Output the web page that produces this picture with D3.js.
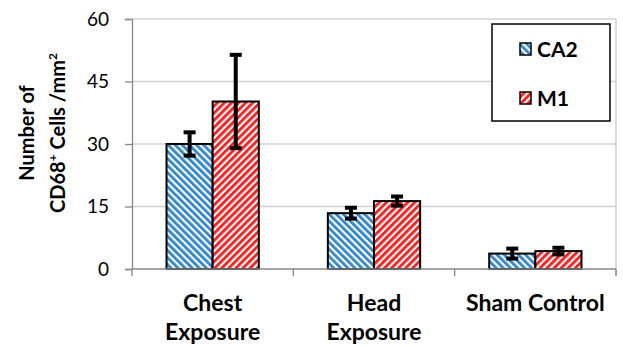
<!DOCTYPE html>
<html><head><meta charset="utf-8">
<script src="https://cdn.jsdelivr.net/npm/d3@7"></script>
<style>body{margin:0;background:#fff;} svg{display:block;}</style>
</head><body>
<script>
const categories = [["Chest","Exposure"],["Head","Exposure"],["Sham Control"]];
const seriesNames = ["CA2","M1"];
const ca2Values = [30.0, 13.4, 3.7];
const ca2Errors = [2.8, 1.3, 1.2];
const m1Values = [40.2, 16.3, 4.3];
const m1Errors = [11.2, 1.1, 0.8];
const yTicks = [0, 15, 30, 45, 60];

const FONT = "Lato, 'Open Sans', sans-serif";
const W = 623, H = 347;
const m = {l:132, r:7, t:19, b:78};
const svg = d3.select("body").append("svg").attr("width", W).attr("height", H);
const defs = svg.append("defs");
function pat(id, color, dir){
  const p = defs.append("pattern").attr("id", id).attr("patternUnits","userSpaceOnUse")
    .attr("width", 5).attr("height", 5)
    .attr("patternTransform", "rotate(" + dir + ")");
  p.append("rect").attr("width",5).attr("height",5).attr("fill","#fff");
  p.append("rect").attr("width",2.8).attr("height",5).attr("fill",color);
}
pat("pCA2", "#2f86d0", -45);
pat("pM1", "#ff1a1a", 45);
const fills = ["url(#pCA2)", "url(#pM1)"];

const x = d3.scaleBand().domain(d3.range(categories.length)).range([m.l, W - m.r]).paddingInner(0).paddingOuter(0);
const y = d3.scaleLinear().domain([0, 60]).range([H - m.b, m.t]);
const bw = x.bandwidth() * 0.286;

// gridlines
svg.append("g").selectAll("line").data(yTicks.filter(d=>d>0)).join("line")
  .attr("x1", m.l).attr("x2", W - m.r).attr("y1", d=>y(d)).attr("y2", d=>y(d))
  .attr("stroke", "#d0d0d0").attr("stroke-width", 1.3);
// right border
svg.append("line").attr("x1", W-m.r).attr("x2", W-m.r).attr("y1", y(60)).attr("y2", y(0)+7)
  .attr("stroke","#c8c8c8").attr("stroke-width",1.3);

// y axis
const yAxis = svg.append("g").attr("transform", `translate(${m.l},0)`)
  .call(d3.axisLeft(y).tickValues(yTicks).tickSize(7).tickPadding(16));
yAxis.select(".domain").attr("stroke", "#888").attr("stroke-width", 1.3);
yAxis.selectAll(".tick line").attr("stroke", "#888").attr("stroke-width", 1.3);
yAxis.selectAll(".tick text").attr("font-family", FONT)
  .attr("font-size", 19).attr("fill", "#000");

// bars
const groups = [ca2Values, m1Values];
const errs = [ca2Errors, m1Errors];
groups.forEach((vals, si) => {
  const g = svg.append("g");
  g.selectAll("rect").data(vals).join("rect")
    .attr("x", (d,i) => x(i) + x.bandwidth()/2 + (si === 0 ? -bw : 0))
    .attr("y", d => y(d)).attr("width", bw).attr("height", d => y(0) - y(d))
    .attr("fill", fills[si]).attr("stroke", "#000").attr("stroke-width", 2);
});

// x axis
svg.append("line").attr("x1", m.l).attr("x2", W-m.r).attr("y1", y(0)).attr("y2", y(0))
  .attr("stroke","#888").attr("stroke-width",1.5);
svg.append("g").selectAll("line").data(d3.range(categories.length+1)).join("line")
  .attr("x1", i => i < categories.length ? x(i) : W-m.r).attr("x2", i => i < categories.length ? x(i) : W-m.r)
  .attr("y1", y(0)).attr("y2", y(0)+7).attr("stroke","#888").attr("stroke-width",1.3);

// error bars
groups.forEach((vals, si) => {
  const g = svg.append("g");
  vals.forEach((v, i) => {
    const cx = x(i) + x.bandwidth()/2 + (si === 0 ? -bw/2 : bw/2);
    const e = errs[si][i];
    g.append("line").attr("x1", cx).attr("x2", cx).attr("y1", y(v+e)).attr("y2", y(v-e))
      .attr("stroke","#000").attr("stroke-width",4);
    [v+e, v-e].forEach(t => g.append("line").attr("x1", cx-6).attr("x2", cx+6)
      .attr("y1", y(t)).attr("y2", y(t)).attr("stroke","#000").attr("stroke-width",4));
  });
});

// category labels
categories.forEach((lines, i) => {
  const t = svg.append("text").attr("x", x(i) + x.bandwidth()/2).attr("y", 311)
    .attr("text-anchor","middle").attr("font-family",FONT)
    .attr("font-weight","bold").attr("font-size",23).attr("fill","#000");
  lines.forEach((l, k) => t.append("tspan").attr("x", x(i)+x.bandwidth()/2).attr("dy", k ? 29 : 0).text(l));
});

// y label
const yl = svg.append("text").attr("transform", "translate(34,133) rotate(-90)")
  .attr("text-anchor","middle").attr("font-family",FONT)
  .attr("font-weight","bold").attr("font-size",20).attr("fill","#000");
yl.append("tspan").attr("x",0).attr("dy",0).text("Number of");
const l2 = yl.append("tspan").attr("x",0).attr("dy",31);
l2.append("tspan").text("CD68");
l2.append("tspan").attr("font-size",12).attr("dy",-8).text("+");
l2.append("tspan").attr("dy",8).text(" Cells /mm");
l2.append("tspan").attr("font-size",12).attr("dy",-8).text("2");

// legend
const lg = svg.append("g");
lg.append("rect").attr("x",492).attr("y",24).attr("width",118).attr("height",97)
  .attr("fill","#fff").attr("stroke","#000").attr("stroke-width",1.5);
seriesNames.forEach((n, i) => {
  const top = 43 + i*49;
  lg.append("rect").attr("x",520).attr("y",top).attr("width",11).attr("height",12)
    .attr("fill",fills[i]).attr("stroke","#000").attr("stroke-width",1.5);
  lg.append("text").attr("x",537).attr("y",top+14).attr("font-family",FONT)
    .attr("font-weight","bold").attr("font-size",21).attr("fill","#000").text(n);
});
</script>
</body></html>
